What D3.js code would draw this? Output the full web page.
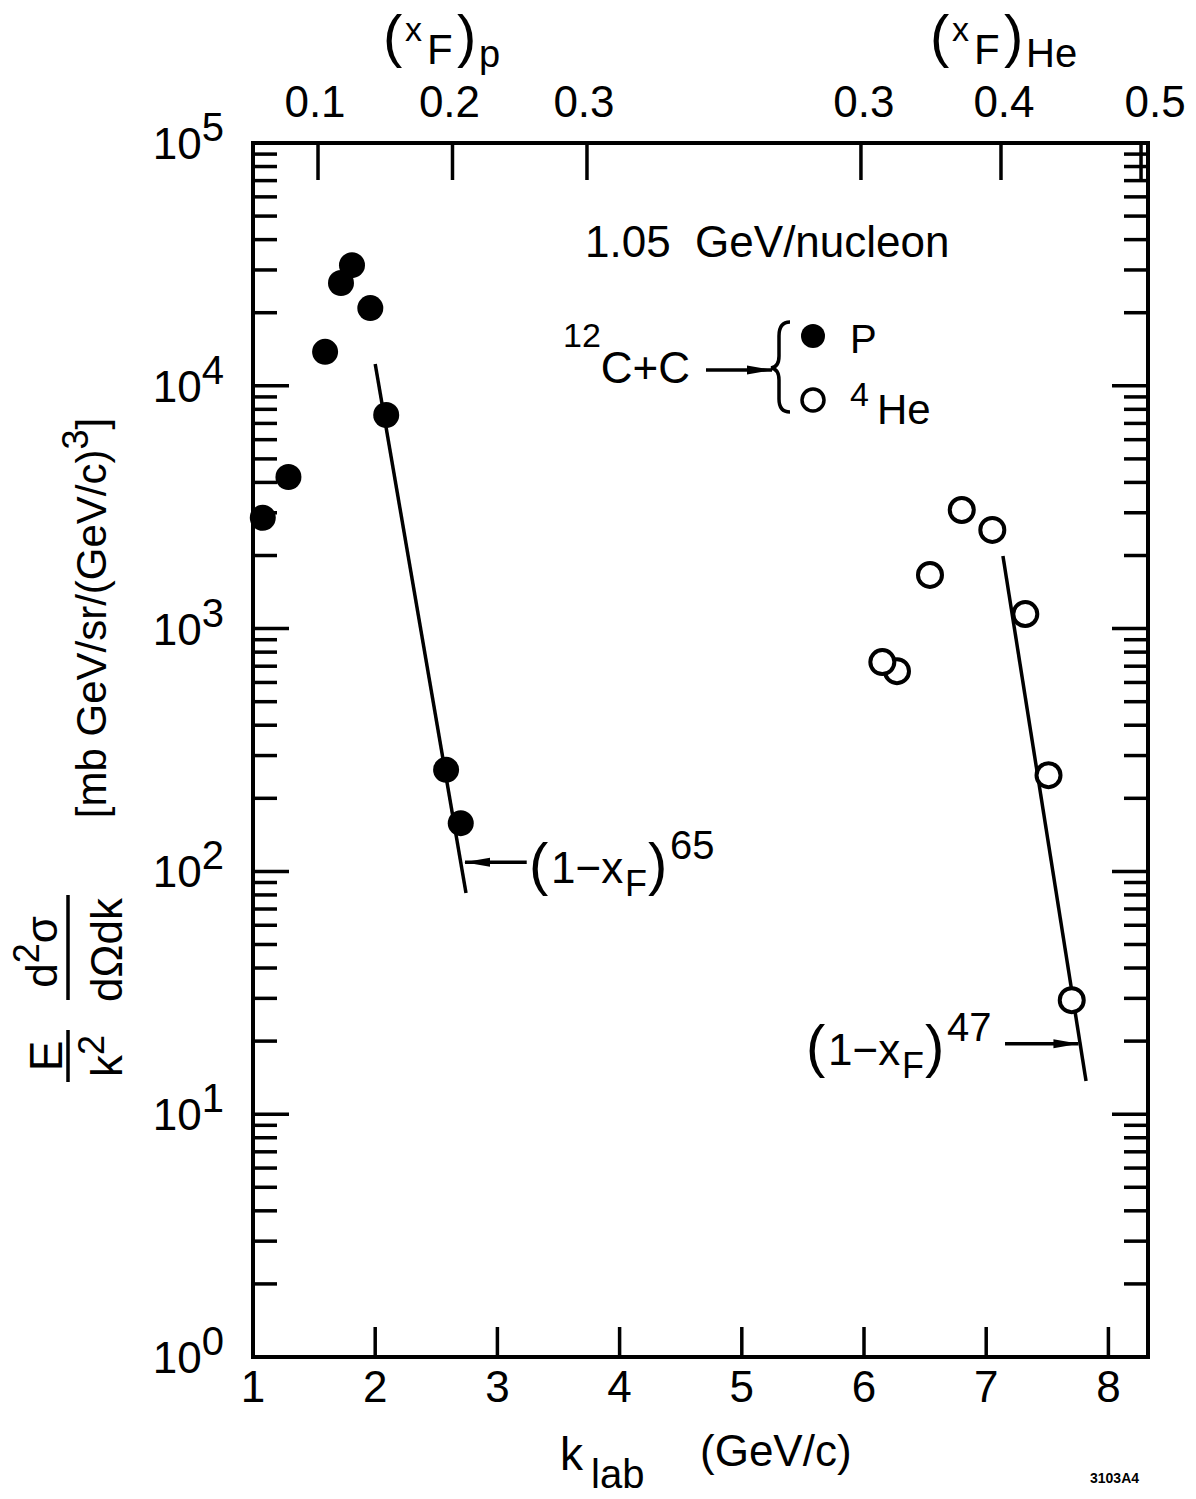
<!DOCTYPE html>
<html><head><meta charset="utf-8">
<script src="https://cdn.jsdelivr.net/npm/d3@7"></script>
<style>
body{margin:0;background:#fff}
text{font-family:"Liberation Sans",Arial,sans-serif;fill:#000}
</style>
</head><body>
<svg id="c" width="1196" height="1499"></svg>
<script>
// ---- data ----
const protonK = [1.08, 1.29, 1.59, 1.72, 1.81, 1.96, 2.09, 2.58, 2.70];
const protonV = [2860, 4210, 13800, 26500, 31400, 20900, 7580, 262, 158];
const heliumK = [6.15, 6.27, 6.54, 6.80, 7.05, 7.32, 7.51, 7.70];
const heliumV = [728, 668, 1663, 3080, 2550, 1148, 249, 29.5];
const fitPK = [2.00, 2.743];
const fitPV = [12300, 81.5];
const fitHeK = [7.137, 7.817];
const fitHeV = [1990, 13.7];
const kTicks = [1, 2, 3, 4, 5, 6, 7, 8];
const yDecades = [0, 1, 2, 3, 4, 5];
const xFpTicks = [0.1, 0.2, 0.3];
const xFpDomain = [0.1, 0.3], xFpK = [1.532, 3.733];
const xFheTicks = [0.3, 0.4, 0.5];
const xFheDomain = [0.3, 0.5], xFheK = [5.975, 8.267];
const arrow65 = {kTail: 3.24, kTip: 2.735, v: 109};
const arrow47 = {kTail: 7.154, kTip: 7.755, v: 19.5};

// ---- layout ----
const L = 253, R = 1148, T = 143, B = 1357;
const svg = d3.select("#c");
const x = d3.scaleLinear().domain([1, 1 + (R - L) / 122.2]).range([L, R]);
const y = d3.scaleLog().domain([1, 1e5]).range([B, T]);
const xFp = d3.scaleLinear().domain(xFpDomain).range(xFpK);
const xFhe = d3.scaleLinear().domain(xFheDomain).range(xFheK);

svg.append("defs").append("marker").attr("id", "ah")
  .attr("viewBox", "0 0 26 12").attr("refX", 25).attr("refY", 6)
  .attr("markerWidth", 26).attr("markerHeight", 12).attr("markerUnits", "userSpaceOnUse")
  .attr("orient", "auto")
  .append("path").attr("d", "M0,1.5 L26,6 L0,10.5 Z").attr("fill", "#000");

// frame
svg.append("rect").attr("x", L).attr("y", T).attr("width", R - L).attr("height", B - T)
  .attr("fill", "none").attr("stroke", "#000").attr("stroke-width", 4);

// y ticks (both sides)
const yTickData = [];
yDecades.forEach(d => {
  yTickData.push({v: Math.pow(10, d), major: true});
  if (d < 5) for (let m = 2; m <= 9; m++) yTickData.push({v: m * Math.pow(10, d), major: false});
});
const gT = svg.append("g").attr("stroke", "#000").attr("stroke-width", 3.5);
yTickData.forEach(t => {
  const len = t.major ? 36 : 24;
  gT.append("line").attr("x1", L).attr("x2", L + len).attr("y1", y(t.v)).attr("y2", y(t.v));
  gT.append("line").attr("x1", R).attr("x2", R - len).attr("y1", y(t.v)).attr("y2", y(t.v));
});
// bottom ticks
kTicks.forEach(k => {
  gT.append("line").attr("x1", x(k)).attr("x2", x(k)).attr("y1", B).attr("y2", B - 30);
});
// top xF ticks
xFpTicks.forEach(t => gT.append("line").attr("x1", x(xFp(t))).attr("x2", x(xFp(t))).attr("y1", T).attr("y2", T + 37));
xFheTicks.filter(t => x(xFhe(t)) < R - 4).forEach(t => gT.append("line").attr("x1", x(xFhe(t))).attr("x2", x(xFhe(t))).attr("y1", T).attr("y2", T + 37));

// y tick labels
yDecades.forEach(d => {
  const t = svg.append("text").attr("x", 224).attr("y", y(Math.pow(10, d)) + 16)
    .attr("text-anchor", "end").attr("font-size", 44);
  t.append("tspan").text("10");
  t.append("tspan").attr("dy", -18).attr("font-size", 40).text(d);
});
// x tick labels
kTicks.forEach(k => svg.append("text").attr("x", x(k)).attr("y", 1402)
  .attr("text-anchor", "middle").attr("font-size", 44).text(k));
// top labels
xFpTicks.forEach(t => svg.append("text").attr("x", x(xFp(t)) - 3).attr("y", 117)
  .attr("text-anchor", "middle").attr("font-size", 44).text(t.toFixed(1)));
xFheTicks.forEach(t => svg.append("text").attr("x", x(xFhe(t)) + (t === 0.5 ? 14 : 3)).attr("y", 117)
  .attr("text-anchor", "middle").attr("font-size", 44).text(t.toFixed(1)));

function xfTitle(x0, sub) {
  const g = svg.append("g");
  g.append("text").attr("x", x0).attr("y", 56).attr("font-size", 58).text("(");
  g.append("text").attr("x", x0 + 22).attr("y", 41).attr("font-size", 34).text("x");
  g.append("text").attr("x", x0 + 44).attr("y", 64).attr("font-size", 42).text("F");
  g.append("text").attr("x", x0 + 74).attr("y", 56).attr("font-size", 58).text(")");
  g.append("text").attr("x", x0 + 96).attr("y", 67).attr("font-size", sub === "p" ? 38 : 40).text(sub);
}
xfTitle(383, "p");
xfTitle(930, "He");

// x axis title
const xt = svg.append("text").attr("x", 560).attr("y", 1470).attr("font-size", 46);
xt.append("tspan").text("k");
xt.append("tspan").attr("dx", 8).attr("dy", 18).attr("font-size", 40).text("lab");
svg.append("text").attr("x", 700).attr("y", 1466).attr("font-size", 44).text("(GeV/c)");
svg.append("text").attr("x", 1090).attr("y", 1483).attr("font-size", 14).attr("font-weight", "bold").text("3103A4");

// y axis title (rotated)
const yt = svg.append("g").attr("transform", "rotate(-90)");
yt.append("text").attr("x", -1056).attr("y", 62).attr("text-anchor", "middle").attr("font-size", 46).text("E");
yt.append("line").attr("x1", -1030).attr("x2", -1082).attr("y1", 68).attr("y2", 68).attr("stroke", "#000").attr("stroke-width", 3.5);
const kk = yt.append("text").attr("x", -1056).attr("y", 122).attr("text-anchor", "middle").attr("font-size", 44);
kk.append("tspan").text("k");
kk.append("tspan").attr("dy", -18).attr("font-size", 36).text("2");
const num = yt.append("text").attr("x", -952).attr("y", 57).attr("text-anchor", "middle").attr("font-size", 44);
num.append("tspan").text("d");
num.append("tspan").attr("dy", -18).attr("font-size", 36).text("2");
num.append("tspan").attr("dy", 18).text("σ");
yt.append("line").attr("x1", -895).attr("x2", -1000).attr("y1", 68).attr("y2", 68).attr("stroke", "#000").attr("stroke-width", 3.5);
yt.append("text").attr("x", -950).attr("y", 122).attr("text-anchor", "middle").attr("font-size", 44).text("dΩdk");
const br = yt.append("text").attr("x", -618).attr("y", 106).attr("text-anchor", "middle").attr("font-size", 42);
br.append("tspan").text("[mb GeV/sr/(GeV/c)");
br.append("tspan").attr("dy", -18).attr("font-size", 36).text("3");
br.append("tspan").attr("dy", 18).text("]");

// fit lines
const line = d3.line().x(d => x(d[0])).y(d => y(d[1]));
svg.append("path").attr("d", line(fitPK.map((k, i) => [k, fitPV[i]])))
  .attr("fill", "none").attr("stroke", "#000").attr("stroke-width", 3.5);
svg.append("path").attr("d", line(fitHeK.map((k, i) => [k, fitHeV[i]])))
  .attr("fill", "none").attr("stroke", "#000").attr("stroke-width", 3.5);

// proton points
svg.append("g").selectAll("circle").data(protonK.map((k, i) => [k, protonV[i]])).join("circle")
  .attr("cx", d => x(d[0])).attr("cy", d => y(d[1])).attr("r", 13).attr("fill", "#000");
// helium points (drawn in reverse so the earlier ones lie on top)
svg.append("g").selectAll("circle").data(heliumK.map((k, i) => [k, heliumV[i]]).reverse()).join("circle")
  .attr("cx", d => x(d[0])).attr("cy", d => y(d[1])).attr("r", 12)
  .attr("fill", "#fff").attr("stroke", "#000").attr("stroke-width", 4);

// annotation arrows
[arrow65, arrow47].forEach(a => svg.append("line")
  .attr("x1", x(a.kTail)).attr("x2", x(a.kTip)).attr("y1", y(a.v)).attr("y2", y(a.v))
  .attr("stroke", "#000").attr("stroke-width", 3.5).attr("marker-end", "url(#ah)"));

function powerLabel(x0, base, exp) {
  const g = svg.append("g");
  g.append("text").attr("x", x0).attr("y", base).attr("font-size", 58).text("(");
  g.append("text").attr("x", x0 + 22).attr("y", base - 1).attr("font-size", 44).text("1−x");
  g.append("text").attr("x", x0 + 96).attr("y", base + 12).attr("font-size", 36).text("F");
  g.append("text").attr("x", x0 + 119).attr("y", base).attr("font-size", 58).text(")");
  g.append("text").attr("x", x0 + 141).attr("y", base - 25).attr("font-size", 40).text(exp);
}
powerLabel(529, 884, "65");
powerLabel(806, 1066, "47");

// energy label
svg.append("text").attr("x", 585).attr("y", 257).attr("font-size", 44).text("1.05  GeV/nucleon").style("white-space", "pre");

// legend
const lg = svg.append("text").attr("x", 563).attr("y", 383).attr("font-size", 44);
lg.append("tspan").attr("dy", -36).attr("font-size", 34).text("12");
lg.append("tspan").attr("dy", 36).text("C+C");
svg.append("line").attr("x1", 706).attr("x2", 772).attr("y1", 370).attr("y2", 370)
  .attr("stroke", "#000").attr("stroke-width", 3.5).attr("marker-end", "url(#ah)");
svg.append("path").attr("d", "M790,322 Q779,322 779,336 L779,356 Q779,367 771,368 Q779,369 779,380 L779,399 Q779,412 790,412")
  .attr("fill", "none").attr("stroke", "#000").attr("stroke-width", 3.5);
svg.append("circle").attr("cx", 813).attr("cy", 336).attr("r", 12).attr("fill", "#000");
svg.append("circle").attr("cx", 813).attr("cy", 400).attr("r", 11).attr("fill", "#fff").attr("stroke", "#000").attr("stroke-width", 3.5);
svg.append("text").attr("x", 850).attr("y", 353).attr("font-size", 40).text("P");
const he = svg.append("text").attr("x", 850).attr("y", 424).attr("font-size", 42);
he.append("tspan").attr("dy", -18).attr("font-size", 34).text("4");
he.append("tspan").attr("dx", 8).attr("dy", 18).text("He");
</script>
</body></html>
